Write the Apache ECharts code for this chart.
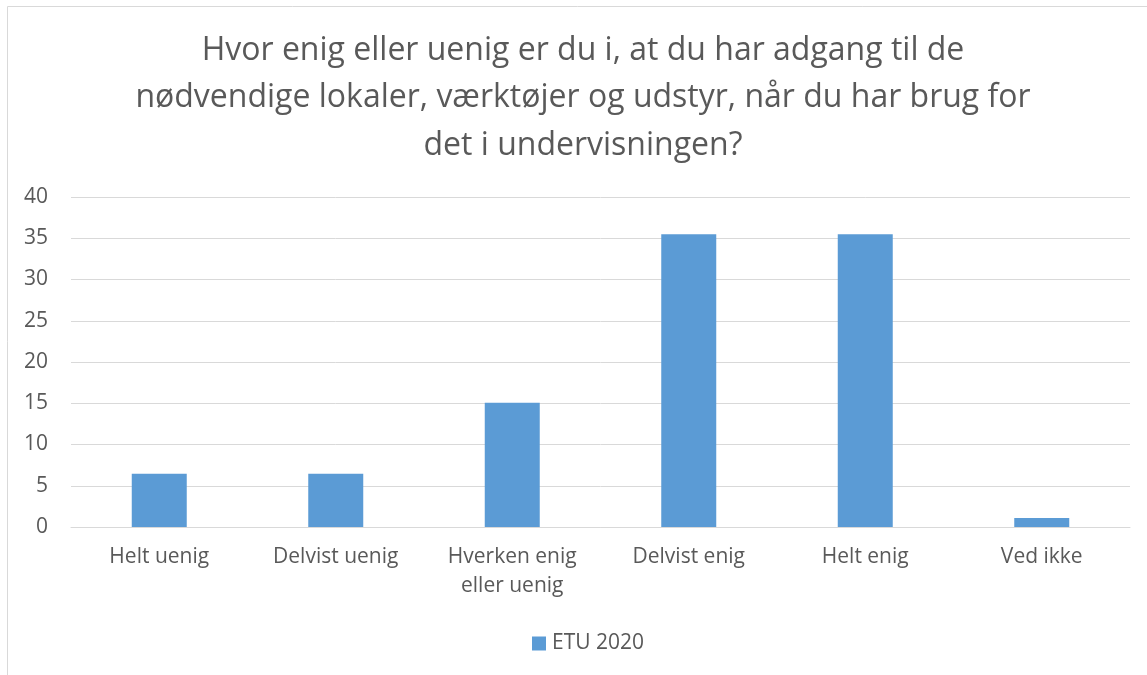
<!DOCTYPE html>
<html>
<head>
<meta charset="utf-8">
<script src="https://cdn.jsdelivr.net/npm/echarts@6/dist/echarts.min.js"></script>
<style>
  html, body { margin: 0; padding: 0; background: #fff; }
  #chart { width: 1147px; height: 675px; }
</style>
</head>
<body>
<div id="chart"></div>
<script>
const categories = ['Helt uenig', 'Delvist uenig', 'Hverken enig\neller uenig', 'Delvist enig', 'Helt enig', 'Ved ikke'];
const etu2020 = [6.45, 6.45, 15.05, 35.48, 35.48, 1.08];
const seriesName = 'ETU 2020';
const titleText = 'Hvor enig eller uenig er du i, at du har adgang til de\nnødvendige lokaler, værktøjer og udstyr, når du har brug for\ndet i undervisningen?';

const textColor = '#595959';
const fontFamily = '"Open Sans", sans-serif';

const chart = echarts.init(document.getElementById('chart'), null, { renderer: 'canvas' });

chart.setOption({
  animation: false,
  textStyle: { fontFamily: fontFamily, color: textColor },
  graphic: [
    {
      type: 'rect',
      shape: { x: 7.5, y: 6.5, width: 1160, height: 700 },
      style: { fill: 'none', stroke: '#d9d9d9', lineWidth: 1 },
      silent: true,
    },
  ],
  title: {
    text: titleText,
    left: 583,
    top: 27,
    padding: 0,
    textAlign: 'center',
    textStyle: {
      fontFamily: fontFamily,
      fontSize: 32,
      fontWeight: 'normal',
      color: textColor,
      lineHeight: 47.5,
    },
  },
  legend: {
    data: [seriesName],
    left: 532,
    top: 633,
    padding: 0,
    icon: 'rect',
    itemWidth: 14,
    itemHeight: 14,
    textStyle: { fontFamily: fontFamily, fontSize: 21, color: textColor, padding: [0, 0, 0, 1] },
  },
  grid: { left: 71, right: 17, top: 197, bottom: 148, containLabel: false },
  xAxis: {
    type: 'category',
    data: categories,
    axisTick: { show: false },
    axisLine: { lineStyle: { color: '#d9d9d9', width: 1 } },
    axisLabel: {
      fontFamily: fontFamily,
      fontSize: 21,
      color: textColor,
      lineHeight: 29,
      margin: 16,
      interval: 0,
    },
  },
  yAxis: {
    type: 'value',
    min: 0,
    max: 40,
    interval: 5,
    axisLine: { show: false },
    axisTick: { show: false },
    splitLine: { lineStyle: { color: '#d9d9d9', width: 1 } },
    axisLabel: { fontFamily: fontFamily, fontSize: 21, color: textColor, margin: 23 },
  },
  series: [
    {
      name: seriesName,
      type: 'bar',
      data: etu2020,
      barWidth: 55,
      itemStyle: { color: '#5b9bd5' },
    },
  ],
});
</script>
</body>
</html>
